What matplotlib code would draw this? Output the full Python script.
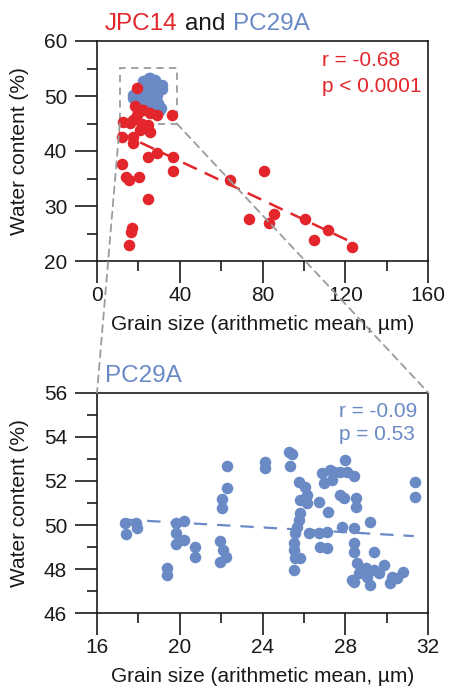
import matplotlib
matplotlib.use("Agg")
import matplotlib.pyplot as plt
from matplotlib.patches import Rectangle, ConnectionPatch

plt.rcParams['font.family'] = ['Liberation Sans', 'DejaVu Sans']

RED = '#E3262B'
BLUE = '#6A8AC6'
GRAY = '#9b9b9b'
INK = '#1a1a1a'

# JPC14 (red)
jpc_x = [19.2, 18.4, 21.6, 22.4, 25.6, 19.2, 28.8, 36.1, 12.7, 17.5, 15.9, 21.6,
         24.8, 20.8, 25.6, 11.9, 17.5, 24.8, 28.8, 36.9, 36.6, 11.9, 14.2, 15.6,
         20.3, 24.8, 16.8, 16.6, 15.5, 64.3, 80.7, 73.6, 83.2, 85.5, 100.5, 104.8,
         111.7, 123.0, 17.2, 23.5]
jpc_y = [51.4, 48.1, 47.5, 47.5, 46.9, 46.5, 46.5, 46.5, 45.3, 45.6, 45.1, 45.0,
         44.7, 43.8, 43.5, 42.5, 41.4, 38.9, 39.6, 39.0, 36.4, 37.6, 35.3, 34.7,
         35.3, 31.2, 26.0, 25.2, 22.9, 34.7, 36.3, 27.7, 27.0, 28.6, 27.6, 23.8,
         25.7, 22.5, 42.6, 44.2]

# PC29A (blue)
pc_x = [17.37, 17.42, 17.9, 17.95, 19.38, 19.38, 19.83, 20.22, 19.83, 19.83, 20.18,
        20.75, 20.75, 21.92, 22.1, 22.25, 21.96, 22.04, 22.04, 22.28, 22.28,
        24.13, 24.13, 25.26, 25.42, 25.3,
        25.74, 26.06, 26.15, 25.82, 26.15, 25.82, 25.74, 25.66, 25.58, 25.5, 25.5,
        25.58, 25.5, 26.22, 26.7, 27.1, 26.79, 27.1, 26.7, 27.14,
        26.87, 27.27, 27.43, 27.75, 28.07, 28.4, 26.95, 27.35, 27.75, 27.91, 28.0,
        28.53, 28.53, 27.83, 28.4, 29.2, 28.4, 28.4, 28.56, 28.64, 28.4, 28.3,
        29.04, 29.2, 29.36, 29.36, 29.84, 29.6, 30.49, 30.17, 30.25, 30.8, 29.0,
        31.38, 31.38, 25.82]
pc_y = [50.11, 49.59, 50.08, 49.85, 48.04, 47.74, 50.08, 50.18, 49.63, 49.14, 49.32,
        48.99, 48.54, 49.28, 48.85, 48.55, 48.34, 50.76, 51.17, 51.67, 52.69,
        52.87, 52.57, 53.33, 53.2, 52.68,
        51.97, 51.74, 51.36, 51.14, 50.99, 50.53, 50.23, 49.93, 49.63, 49.17, 48.87,
        48.49, 47.96, 49.63, 49.63, 49.7, 49.02, 48.95, 51.06, 50.6,
        52.35, 52.5, 52.42, 52.42, 52.42, 52.22, 51.89, 52.04, 51.36, 51.21, 52.95,
        51.21, 50.83, 49.93, 49.85, 50.15, 49.17, 48.79, 48.27, 47.81, 47.43, 47.5,
        47.66, 47.28, 48.8, 47.96, 48.19, 47.81, 47.59, 47.36, 47.66, 47.85, 48.04,
        51.97, 51.29, 48.5]

# regression lines (end points as drawn)
jpc_fit_x = [10.5, 122.0]
jpc_fit_y = [43.4, 23.6]
pc_fit_x = [17.3, 31.3]
pc_fit_y = [50.25, 49.5]

# zoom box in the top panel
box_x = [11.0, 38.5]
box_y = [45.0, 55.0]

W, H = 449, 694
def fx(x):
    return x / W
def fy(y):
    return 1 - y / H

fig = plt.figure(figsize=(W / 100, H / 100), dpi=100)
ax1 = fig.add_axes([fx(97), fy(261), (428.3 - 97) / W, 220 / H])
ax2 = fig.add_axes([fx(97), fy(613.3), (428.3 - 97) / W, 220.6 / H])


def style(ax):
    for s in ax.spines.values():
        s.set_linewidth(1.2)
        s.set_color(INK)
    ax.tick_params(which='both', direction='out', width=1.2, color=INK,
                   labelsize=15, labelcolor=INK, top=False, right=False)
    ax.tick_params(which='major', length=15.5)
    ax.tick_params(which='minor', length=7.5)
    ax.tick_params(axis='x', pad=2.5)
    ax.tick_params(axis='y', pad=6)


# top panel
ax1.add_patch(Rectangle((box_x[0], box_y[0]), box_x[1] - box_x[0], box_y[1] - box_y[0],
                        fill=False, ec=GRAY, lw=1.3, ls=(0, (4, 3)), zorder=1))
ax1.scatter(pc_x, pc_y, s=69, color=BLUE, lw=0, zorder=2)
ax1.scatter(jpc_x, jpc_y, s=69, color=RED, lw=0, zorder=3)
ax1.plot(jpc_fit_x, jpc_fit_y, color=RED, lw=1.8, dashes=(6, 3.5), zorder=4)
ax1.set_xlim(0, 160)
ax1.set_ylim(20, 60)
ax1.set_xticks([0, 40, 80, 120, 160])
ax1.set_xticks([20, 60, 100, 140], minor=True)
ax1.set_yticks([20, 30, 40, 50, 60])
ax1.set_yticks([25, 35, 45, 55], minor=True)
style(ax1)
ax1.set_xlabel('Grain size (arithmetic mean, µm)', fontsize=15, color=INK)
ax1.set_ylabel('Water content (%)', fontsize=15, color=INK)
ax1.xaxis.set_label_coords(0.5, -0.245)
ax1.yaxis.set_label_coords(-0.205, 0.5)

# bottom panel
ax2.scatter(pc_x, pc_y, s=69, color=BLUE, lw=0, zorder=2)
ax2.plot(pc_fit_x, pc_fit_y, color=BLUE, lw=1.6, dashes=(6, 4.5), zorder=3)
ax2.set_xlim(16, 32)
ax2.set_ylim(46, 56)
ax2.set_xticks([16, 20, 24, 28, 32])
ax2.set_xticks([18, 22, 26, 30], minor=True)
ax2.set_yticks([46, 48, 50, 52, 54, 56])
ax2.set_yticks([47, 49, 51, 53, 55], minor=True)
style(ax2)
ax2.set_xlabel('Grain size (arithmetic mean, µm)', fontsize=15, color=INK)
ax2.set_ylabel('Water content (%)', fontsize=15, color=INK)
ax2.xaxis.set_label_coords(0.5, -0.245)
ax2.yaxis.set_label_coords(-0.205, 0.5)

# zoom connectors, drawn over the top panel as in the original
for xa, xb in [(box_x[0], 0), (box_x[1], 1)]:
    con = ConnectionPatch(xyA=(xa, box_y[0]), coordsA=ax1.transData,
                          xyB=(xb, 1), coordsB=ax2.transAxes,
                          color=GRAY, lw=1.3, ls=(0, (4, 3)), zorder=1)
    fig.add_artist(con)

# titles and stats
fig.text(fx(105), fy(30), 'JPC14', color=RED, fontsize=17.5, va='baseline')
fig.text(fx(185), fy(30), 'and', color=INK, fontsize=17.5, va='baseline')
fig.text(fx(233), fy(30), 'PC29A', color=BLUE, fontsize=17.5, va='baseline')
fig.text(fx(322), fy(65.7), 'r = -0.68', color=RED, fontsize=15, va='baseline')
fig.text(fx(322), fy(91.7), 'p < 0.0001', color=RED, fontsize=15, va='baseline')

fig.text(fx(105), fy(382), 'PC29A', color=BLUE, fontsize=17.5, va='baseline')
fig.text(fx(339), fy(416.7), 'r = -0.09', color=BLUE, fontsize=15, va='baseline')
fig.text(fx(339), fy(440), 'p = 0.53', color=BLUE, fontsize=15, va='baseline')

fig.savefig('out.png', dpi=100)
